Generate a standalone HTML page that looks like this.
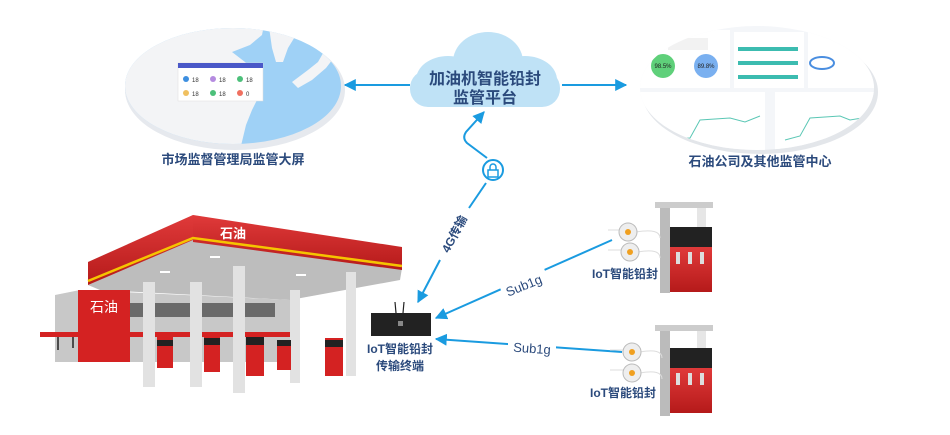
<!DOCTYPE html>
<html><head><meta charset="utf-8"><style>
html,body{margin:0;padding:0;background:#fff;width:950px;height:435px;overflow:hidden}
svg{display:block}
text{font-family:"Liberation Sans","Noto Sans CJK SC",sans-serif}
</style></head><body>
<svg width="950" height="435" viewBox="0 0 950 435" xmlns="http://www.w3.org/2000/svg">
<defs>
<marker id="ah" viewBox="0 0 10 10" refX="9" refY="5" markerWidth="6" markerHeight="6" orient="auto-start-reverse"><path d="M0,0 L10,5 L0,10 z" fill="#1a9be0"/></marker>
<clipPath id="mapc"><ellipse cx="233" cy="86" rx="108" ry="58"/></clipPath>
<clipPath id="dashc"><ellipse cx="757" cy="88" rx="117" ry="62"/></clipPath>
<linearGradient id="red" x1="0" y1="0" x2="0" y2="1"><stop offset="0" stop-color="#e03a3a"/><stop offset="1" stop-color="#b51a1a"/></linearGradient>
</defs>
<rect width="950" height="435" fill="#fff"/>

<!-- map ellipse -->
<ellipse cx="235" cy="90" rx="110" ry="60" fill="#e6e9ee"/>
<g clip-path="url(#mapc)">
<rect x="120" y="20" width="230" height="135" fill="#9fd1f6"/>
<path d="M120,20 L265,20 L262,35 L250,45 L232,52 L245,62 L256,72 L262,90 L252,110 L246,125 L240,150 L120,150 Z" fill="#f3f4f6"/>
<path d="M268,20 L300,20 L296,35 L288,48 L283,62 L276,62 L272,48 Z" fill="#f3f4f6"/>
<path d="M292,82 L308,70 L318,62 L326,48 L333,35 L340,40 L336,55 L326,68 L312,80 L298,88 Z" fill="#f3f4f6"/>
<rect x="178" y="63" width="85" height="38" fill="#fff" stroke="#ddd" stroke-width="0.5"/>
<rect x="178" y="63" width="85" height="5" fill="#4a58c8"/>
<g font-size="6" fill="#333">
<circle cx="186" cy="79" r="3" fill="#3d8fe0"/><text x="192" y="82">18</text>
<circle cx="213" cy="79" r="3" fill="#b58be0"/><text x="219" y="82">18</text>
<circle cx="240" cy="79" r="3" fill="#4cc07a"/><text x="246" y="82">18</text>
<circle cx="186" cy="93" r="3" fill="#f0c060"/><text x="192" y="96">18</text>
<circle cx="213" cy="93" r="3" fill="#4cc07a"/><text x="219" y="96">18</text>
<circle cx="240" cy="93" r="3" fill="#f07060"/><text x="246" y="96">0</text>
</g>
</g>
<text x="233" y="164" font-size="13" font-weight="bold" fill="#2b4a7c" text-anchor="middle">市场监督管理局监管大屏</text>

<!-- dashboard ellipse -->
<ellipse cx="760" cy="92" rx="118" ry="62" fill="#e3e6ea"/>
<g clip-path="url(#dashc)">
<rect x="630" y="20" width="260" height="140" fill="#f4f6f9"/>
<rect x="640" y="30" width="90" height="58" fill="#fff"/>
<rect x="668" y="38" width="40" height="12" fill="#f2f2f2"/>
<circle cx="663" cy="66" r="12" fill="#5fd07a"/><text x="663" y="68" font-size="6" text-anchor="middle" fill="#222">98.5%</text>
<circle cx="706" cy="66" r="12" fill="#7ab0f0"/><text x="706" y="68" font-size="6" text-anchor="middle" fill="#222">89.8%</text>
<rect x="734" y="32" width="70" height="56" fill="#fff"/>
<rect x="738" y="47" width="60" height="4" fill="#3cbcb0"/>
<rect x="738" y="61" width="60" height="4" fill="#3cbcb0"/>
<rect x="738" y="75" width="60" height="4" fill="#3cbcb0"/>
<rect x="808" y="32" width="80" height="56" fill="#fff"/>
<ellipse cx="822" cy="63" rx="12" ry="6" fill="none" stroke="#4a8ee0" stroke-width="2"/>
<rect x="640" y="92" width="125" height="62" fill="#fff"/>
<polyline points="650,140 690,138 700,120 730,118 745,122 760,116" fill="none" stroke="#5bc7b5" stroke-width="1"/>
<rect x="775" y="92" width="110" height="62" fill="#fff"/>
<polyline points="785,140 800,136 810,118 840,116 850,120 880,115" fill="none" stroke="#5bc7b5" stroke-width="1"/>
</g>
<text x="760" y="166" font-size="13" font-weight="bold" fill="#2b4a7c" text-anchor="middle">石油公司及其他监管中心</text>

<!-- cloud -->
<g fill="#bfe2f6">
<ellipse cx="488" cy="62" rx="35" ry="30"/>
<ellipse cx="448" cy="80" rx="32" ry="24"/>
<ellipse cx="525" cy="80" rx="32" ry="24"/>
<rect x="410" y="70" width="150" height="37" rx="18"/>
</g>
<text x="485" y="84" font-size="16" font-weight="bold" fill="#2b4a7c" text-anchor="middle">加油机智能铅封</text>
<text x="485" y="103" font-size="16" font-weight="bold" fill="#2b4a7c" text-anchor="middle">监管平台</text>

<!-- arrows top -->
<line x1="410" y1="85" x2="345" y2="85" stroke="#1a9be0" stroke-width="2" marker-end="url(#ah)"/>
<line x1="562" y1="85" x2="626" y2="85" stroke="#1a9be0" stroke-width="2" marker-end="url(#ah)"/>
<path d="M487,158 L467,143 Q462,138 466,132 L484,112" fill="none" stroke="#1a9be0" stroke-width="2" marker-end="url(#ah)"/>
<circle cx="493" cy="170" r="10" fill="#fff" stroke="#1a9be0" stroke-width="2"/>
<rect x="488" y="170" width="10" height="7" fill="none" stroke="#1a9be0" stroke-width="1.5"/>
<path d="M490,170 v-3 a3,3 0 0 1 6,0 v3" fill="none" stroke="#1a9be0" stroke-width="1.5"/>
<line x1="486" y1="183" x2="469" y2="208" stroke="#1a9be0" stroke-width="2"/>
<line x1="440" y1="260" x2="418" y2="302" stroke="#1a9be0" stroke-width="2" marker-end="url(#ah)"/>
<text x="0" y="0" font-size="12" font-weight="bold" fill="#2b4a7c" text-anchor="middle" transform="translate(458,236) rotate(-62)">4G传输</text>

<!-- sub1g arrows -->
<line x1="612" y1="240" x2="436" y2="318" stroke="#1a9be0" stroke-width="2" marker-end="url(#ah)"/>
<line x1="622" y1="352" x2="436" y2="339" stroke="#1a9be0" stroke-width="2" marker-end="url(#ah)"/>
<rect x="500" y="275" width="48" height="16" fill="#fff" transform="rotate(-22 524 283)"/>
<text x="524" y="290" font-size="13" fill="#2b4a7c" text-anchor="middle" transform="rotate(-22 524 286)">Sub1g</text>
<rect x="508" y="340" width="48" height="16" fill="#fff"/>
<text x="532" y="353" font-size="13" fill="#2b4a7c" text-anchor="middle" transform="rotate(4 532 349)">Sub1g</text>

<!-- device -->
<line x1="396" y1="313" x2="395" y2="302" stroke="#222" stroke-width="1.2"/>
<line x1="403" y1="313" x2="404" y2="302" stroke="#222" stroke-width="1.2"/>
<rect x="371" y="313" width="60" height="23" fill="#222"/>
<rect x="398" y="321" width="5" height="5" fill="#888"/>
<text x="400" y="353" font-size="12" font-weight="bold" fill="#2b4a7c" text-anchor="middle">IoT智能铅封</text>
<text x="400" y="370" font-size="12" font-weight="bold" fill="#2b4a7c" text-anchor="middle">传输终端</text>

<!-- gas station -->
<polygon points="88,262 193,215 402,250 402,268 193,239 88,285" fill="#cfcfcf"/>
<polygon points="88,285 193,239 402,268 400,280 290,300 100,290" fill="#bdbdbd"/>
<polygon points="88,262 193,215 193,240 88,285" fill="url(#red)"/>
<polygon points="193,215 402,247 402,270 193,242" fill="url(#red)"/>
<polyline points="88,281 193,238 402,266" fill="none" stroke="#f5c400" stroke-width="2.5"/>
<text x="233" y="238" font-size="13" font-weight="bold" fill="#fff" text-anchor="middle">石油</text>
<g fill="#fff"><rect x="210" y="256" width="10" height="2"/><rect x="160" y="271" width="10" height="2"/><rect x="296" y="274" width="10" height="2"/></g>
<polygon points="55,295 80,290 290,300 290,362 55,362" fill="#c8c8c8"/>
<polygon points="78,290 130,290 130,362 78,362" fill="#d42222"/>
<text x="104" y="312" font-size="14" fill="#fff" text-anchor="middle">石油</text>
<rect x="40" y="332" width="260" height="5" fill="#d42222"/>
<line x1="58" y1="337" x2="58" y2="350" stroke="#222" stroke-width="1.5"/>
<line x1="73" y1="337" x2="73" y2="348" stroke="#222" stroke-width="1.5"/>
<rect x="130" y="303" width="145" height="14" fill="#6a6a6a"/>
<g fill="#e2e2e2">
<rect x="143" y="282" width="12" height="105"/>
<rect x="190" y="282" width="12" height="105"/>
<rect x="233" y="266" width="12" height="127"/>
<rect x="290" y="290" width="10" height="93"/>
<rect x="346" y="272" width="10" height="104"/>
</g>
<g fill="#d42222">
<rect x="157" y="335" width="16" height="33"/><rect x="204" y="335" width="16" height="37"/>
<rect x="246" y="338" width="18" height="38"/><rect x="277" y="340" width="14" height="30"/>
<rect x="325" y="338" width="18" height="38"/>
</g>
<g fill="#222">
<rect x="157" y="340" width="16" height="6"/><rect x="204" y="338" width="16" height="7"/>
<rect x="246" y="337" width="18" height="8"/><rect x="277" y="340" width="14" height="6"/>
<rect x="325" y="340" width="18" height="7"/>
</g>

<!-- right pumps -->
<rect x="660" y="205" width="10" height="88" fill="#bbb"/>
<rect x="697" y="205" width="9" height="25" fill="#e6e6e6"/>
<rect x="655" y="202" width="58" height="6" fill="#ccc"/>
<rect x="670" y="227" width="42" height="20" fill="#222"/>
<rect x="670" y="247" width="42" height="45" fill="url(#red)"/>
<g fill="#ddd"><rect x="676" y="252" width="4" height="12"/><rect x="688" y="252" width="4" height="12"/><rect x="700" y="252" width="4" height="12"/></g>
<g stroke="#ddd" fill="none"><path d="M608,230 L620,230"/><path d="M608,250 L621,250"/><path d="M636,232 Q660,228 660,238"/><path d="M638,252 Q660,248 660,258"/></g>
<circle cx="628" cy="232" r="9" fill="#eee" stroke="#bbb"/><circle cx="628" cy="232" r="3" fill="#f0a020"/>
<circle cx="630" cy="252" r="9" fill="#eee" stroke="#bbb"/><circle cx="630" cy="252" r="3" fill="#f0a020"/>
<text x="625" y="278" font-size="12" font-weight="bold" fill="#2b4a7c" text-anchor="middle">IoT智能铅封</text>

<rect x="660" y="328" width="10" height="88" fill="#bbb"/>
<rect x="697" y="328" width="9" height="22" fill="#e6e6e6"/>
<rect x="655" y="325" width="58" height="6" fill="#ccc"/>
<rect x="670" y="348" width="42" height="20" fill="#222"/>
<rect x="670" y="368" width="42" height="45" fill="url(#red)"/>
<g fill="#ddd"><rect x="676" y="373" width="4" height="12"/><rect x="688" y="373" width="4" height="12"/><rect x="700" y="373" width="4" height="12"/></g>
<g stroke="#ddd" fill="none"><path d="M610,350 L624,350"/><path d="M610,370 L624,370"/><path d="M640,352 Q662,348 662,358"/><path d="M640,373 Q662,369 662,379"/></g>
<circle cx="632" cy="352" r="9" fill="#eee" stroke="#bbb"/><circle cx="632" cy="352" r="3" fill="#f0a020"/>
<circle cx="632" cy="373" r="9" fill="#eee" stroke="#bbb"/><circle cx="632" cy="373" r="3" fill="#f0a020"/>
<text x="623" y="397" font-size="12" font-weight="bold" fill="#2b4a7c" text-anchor="middle">IoT智能铅封</text>
</svg>
</body></html>
